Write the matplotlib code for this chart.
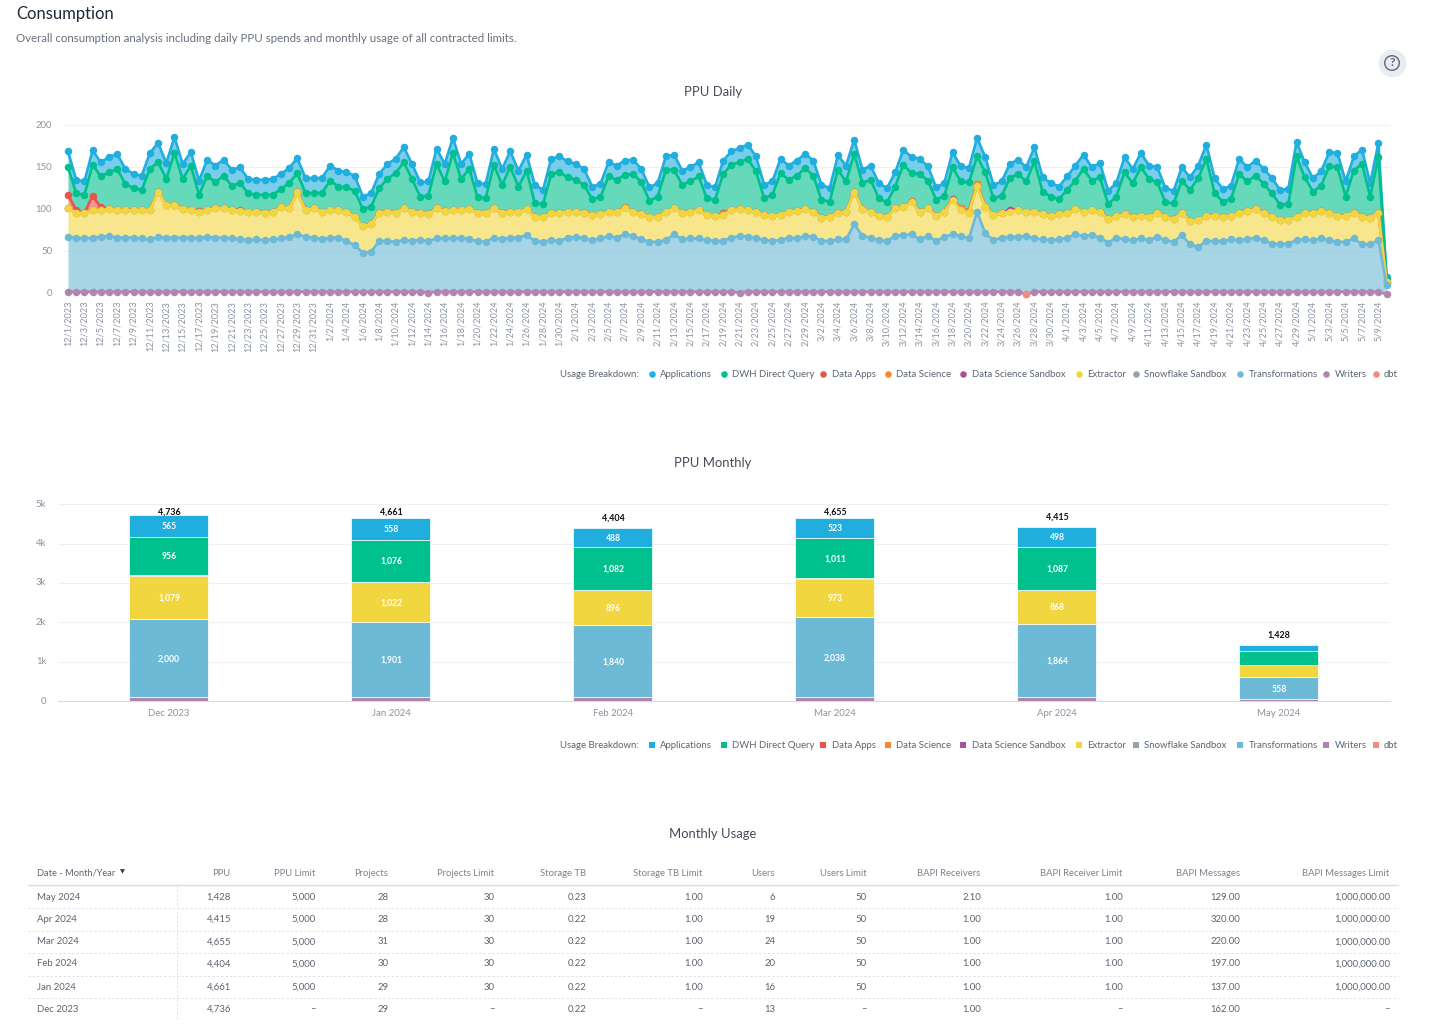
import matplotlib
matplotlib.use("Agg")
import matplotlib.pyplot as plt
import numpy as np
import pandas as pd

plt.rcParams['font.family'] = ['Lato', 'DejaVu Sans']

W, H = 1430, 1033

# PPU Daily, levels of the stack (top of each band)
applications_top = [
    169,135,133,170,156,162,166,148,142,140,167,179,155,186,154,168,134,159,152,159,
    147,150,136,135,135,136,142,149,161,137,137,137,152,146,144,140,115,119,142,154,
    160,174,154,132,133,172,154,185,154,166,131,130,172,
    148,169,146,165,129,123,160,163,157,154,148,127,130,156,152,158,159,148,126,131,
    163,165,146,150,156,129,126,158,169,173,177,163,129,133,160,152,158,166,158,129,
    125,164,152,183,147,152,131,125,144,171,162,160,151,126,131,168,151,149,185,
    162,129,133,154,159,150,174,138,131,127,139,152,165,150,155,122,131,162,148,167,
    152,150,125,122,150,138,152,177,137,124,128,160,150,158,148,137,123,124,180,156,
    137,145,168,167,133,163,171,131,179,19]
dwh_top = [
    150,119,117,153,139,144,148,130,125,123,148,156,136,167,136,152,117,140,132,140,
    128,131,119,117,117,117,124,131,143,119,119,119,134,127,126,122,100,103,125,136,
    143,156,136,115,116,154,133,167,136,148,114,113,153,
    129,150,127,146,107,106,142,144,138,135,129,112,114,139,135,141,142,132,110,115,
    147,147,129,133,139,113,111,142,153,156,160,145,113,117,143,135,140,149,140,111,
    109,147,133,166,131,135,113,108,127,153,143,142,134,111,116,150,133,132,163,
    144,113,116,137,142,133,157,121,115,112,123,134,148,134,138,106,115,144,131,150,
    136,132,108,107,134,123,137,160,119,109,112,142,133,140,130,119,105,106,163,138,
    121,128,151,150,115,146,154,115,162,17]
extractor_top = [
    101,96,95,99,99,100,99,99,99,99,99,121,105,105,100,99,97,99,101,101,
    99,98,97,97,96,97,102,101,120,99,101,97,99,99,97,91,80,82,96,97,
    96,101,97,96,94,101,98,99,99,100,96,96,101,
    96,97,97,100,91,91,95,95,97,97,96,93,94,97,97,101,97,94,91,91,
    97,101,96,97,99,93,92,93,99,100,99,97,93,92,93,97,98,100,97,90,
    91,96,97,121,100,97,92,91,101,102,109,97,101,92,97,111,99,96,128,
    103,93,95,97,99,97,97,94,92,94,95,100,97,99,97,88,92,94,91,92,
    91,95,91,88,96,86,87,92,92,91,92,95,98,100,95,91,87,87,91,96,
    95,98,96,92,92,96,91,90,96,13]
transformations_top = [
    67,66,65,66,67,68,66,66,66,65,64,67,66,66,66,66,65,67,66,66,
    65,64,63,64,63,64,65,67,70,67,66,64,66,66,62,57,48,49,62,62,
    61,63,62,63,62,65,65,65,66,64,62,61,66,
    64,66,66,69,62,61,63,62,66,67,65,63,65,68,66,70,68,64,61,61,
    63,70,64,65,65,63,62,62,66,68,67,66,63,62,63,66,65,68,67,62,
    62,64,64,82,68,66,63,62,68,69,70,64,68,62,67,70,68,65,97,
    71,63,66,67,67,68,65,64,63,64,66,70,68,69,66,60,66,64,63,65,
    63,67,63,61,69,58,55,62,62,62,64,63,64,66,63,59,58,59,63,64,
    63,65,63,61,61,65,58,58,63,9]
writers_top = [1.6] * 162
writers_top[44] = 0.4
writers_top[82] = 0.4
writers_top[117] = -1.6
writers_top[161] = -1.6

# small bands that mostly hide under Extractor: day index -> height above it
sandbox_bumps = {115: 2.5, 108: 0.8}
science_bumps = {109: 2.5, 110: 2, 111: 2, 103: 1, 68: 1, 80: 1}
apps_bumps = {0: 16, 1: 3, 3: 17, 4: 3, 16: 1, 21: 1, 80: 1}
dbt_days = [117]
dbt_values = [-1.6]

dates = pd.date_range("2023-12-01", periods=162)
date_labels = [f"{d.month}/{d.day}/{d.year}" for d in dates]

# PPU Monthly
months = ["Dec 2023", "Jan 2024", "Feb 2024", "Mar 2024", "Apr 2024", "May 2024"]
m_writers = [90, 95, 90, 100, 92, 40]
m_transformations = [2000, 1901, 1840, 2038, 1864, 558]
m_extractor = [1079, 1022, 896, 973, 868, 310]
m_data_apps = [46, 9, 8, 10, 6, 0]
m_dwh = [956, 1076, 1082, 1011, 1087, 360]
m_applications = [565, 558, 488, 523, 498, 160]
m_totals = [4736, 4661, 4404, 4655, 4415, 1428]

# Monthly Usage
table_columns = ["PPU", "PPU Limit", "Projects", "Projects Limit", "Storage TB", "Storage TB Limit",
                 "Users", "Users Limit", "BAPI Receivers", "BAPI Receiver Limit", "BAPI Messages",
                 "BAPI Messages Limit"]
table_months = ["May 2024", "Apr 2024", "Mar 2024", "Feb 2024", "Jan 2024", "Dec 2023"]
table_rows = [
    ["1,428", "5,000", "28", "30", "0.23", "1.00", "6", "50", "2.10", "1.00", "129.00", "1,000,000.00"],
    ["4,415", "5,000", "28", "30", "0.22", "1.00", "19", "50", "1.00", "1.00", "320.00", "1,000,000.00"],
    ["4,655", "5,000", "31", "30", "0.22", "1.00", "24", "50", "1.00", "1.00", "220.00", "1,000,000.00"],
    ["4,404", "5,000", "30", "30", "0.22", "1.00", "20", "50", "1.00", "1.00", "197.00", "1,000,000.00"],
    ["4,661", "5,000", "29", "30", "0.22", "1.00", "16", "50", "1.00", "1.00", "137.00", "1,000,000.00"],
    ["4,736", "–", "29", "–", "0.22", "–", "13", "–", "1.00", "–", "162.00", "–"],
]

legend_names = ["Applications", "DWH Direct Query", "Data Apps", "Data Science", "Data Science Sandbox",
                "Extractor", "Snowflake Sandbox", "Transformations", "Writers", "dbt"]
legend_colors = ["#20AEDE", "#00C18D", "#E8544A", "#F58B27", "#A7509E",
                 "#F2D63F", "#94A1B0", "#6CBAD6", "#B185B0", "#F28B80"]
legend_dot_x = [651.5, 724, 823, 888, 963, 1079, 1136, 1240, 1326, 1375.5]
col = dict(zip(legend_names, legend_colors))

GREY = "#8b93a1"
TEXT = "#5c6470"
DOWN = 0.8  # va="center" sits a bit high on this page


def px_axes(left, top, right, bottom):
    return fig.add_axes([left / W, 1 - bottom / H, (right - left) / W, (bottom - top) / H])


fig = plt.figure(figsize=(W / 100, H / 100), dpi=100)

# page overlay in pixel coordinates, for titles, legends and the table
page = fig.add_axes([0, 0, 1, 1])
page.set_xlim(0, W)
page.set_ylim(H, 0)
page.axis("off")

page.text(16, 13.5 + DOWN, "Consumption", fontsize=12, color="#1f2a36", va="center")
page.text(16, 38.5, "Overall consumption analysis including daily PPU spends and monthly usage of all contracted limits.",
          fontsize=8.27, color="#68707c", va="center")
page.scatter([1392], [63], s=400, color="#e9edf2", linewidths=0)
page.scatter([1392], [63], s=110, facecolor="none", edgecolor="#5f6874", linewidths=1)
page.text(1392, 63, "?", fontsize=8.5, color="#5f6874", ha="center", va="center", fontweight="bold")

for title, y in [("PPU Daily", 91), ("PPU Monthly", 462), ("Monthly Usage", 833)]:
    page.text(713, y + DOWN, title, fontsize=9.4, color="#444c57", ha="center", va="center")


def draw_legend(y, marker):
    page.text(560, y + DOWN, "Usage Breakdown:", fontsize=6.95, color=TEXT, va="center")
    for name, color, dx in zip(legend_names, legend_colors, legend_dot_x):
        page.scatter([dx], [y], s=22, marker=marker, color=color, linewidths=0)
        page.text(dx + 8.5, y + DOWN, name, fontsize=6.95, color=TEXT, va="center")


draw_legend(374, "o")
draw_legend(745, "s")

# PPU Daily
ax = px_axes(64, 125.3, 1390, 293)
x = np.arange(162)
ax.set_xlim((64 - 68) / 8.19, (1390 - 68) / 8.19)
ax.set_ylim(0, 200)

extractor = np.array(extractor_top, dtype=float)
sandbox = extractor + np.array([sandbox_bumps.get(i, 0) for i in x])
science = sandbox + np.array([science_bumps.get(i, 0) for i in x])
apps = science + np.array([apps_bumps.get(i, 0) for i in x])
dwh = np.array(dwh_top, dtype=float)
blue = np.array(applications_top, dtype=float)
trans = np.array(transformations_top, dtype=float)
writers = np.array(writers_top, dtype=float)

bands = [
    (blue, dwh, "Applications", 3),
    (dwh, apps, "DWH Direct Query", 4),
    (apps, science, "Data Apps", 5),
    (science, sandbox, "Data Science", 6),
    (sandbox, extractor, "Data Science Sandbox", 7),
    (extractor, trans, "Extractor", 8),
    (trans, writers, "Transformations", 10),
    (writers, writers * 0, "Writers", 11),
]
for top, low, name, z in bands:
    ax.fill_between(x, low, top, color=col[name], alpha=0.6, linewidth=0, zorder=z)
    ax.plot(x, top, color=col[name], lw=1.9, marker="o", ms=5.4, mew=0, clip_on=False, zorder=z + 0.5)
ax.plot(dbt_days, dbt_values, color=col["dbt"], marker="o", ms=5.4, mew=0, clip_on=False, zorder=12)

ax.set_yticks([0, 50, 100, 150, 200])
ax.set_xticks(x[::2])
ax.set_xticklabels(date_labels[::2], rotation=90, fontsize=6.6, color=GREY)
ax.tick_params(length=0)
ax.tick_params(axis="x", pad=5.5)
ax.tick_params(axis="y", labelsize=6.9, labelcolor=GREY, pad=8.5)
for lab in ax.get_yticklabels():
    lab.set_va("center")
ax.yaxis.grid(True, color="#eff0f2", lw=0.8)
ax.set_axisbelow(True)
for s in ax.spines.values():
    s.set_visible(False)

# PPU Monthly
ax2 = px_axes(58, 504.3, 1390, 701)
mx = np.arange(6)
ax2.set_xlim(-0.5, 5.5)
ax2.set_ylim(0, 5000)

bottom = np.zeros(6)
stack = [(m_writers, "Writers"), (m_transformations, "Transformations"), (m_extractor, "Extractor"),
         (m_data_apps, "Data Apps"), (m_dwh, "DWH Direct Query"), (m_applications, "Applications")]
for vals, name in stack:
    ax2.bar(mx - 0.002, vals, 0.358, bottom=bottom, color=col[name], edgecolor="white", linewidth=0.5, zorder=3)
    for i, v in enumerate(vals):
        if v >= 400:
            ax2.annotate(f"{v:,}", (mx[i], bottom[i] + v / 2), xytext=(0, -0.5), textcoords="offset points",
                         color="white", fontsize=6.2, fontweight="bold", ha="center", va="center", zorder=4)
    bottom += np.array(vals)
# the top labels stop rising near the top of the plot
for i, t in enumerate(m_totals):
    ax2.annotate(f"{t:,}", (mx[i], min(t, 4555)), xytext=(0, 3.8), textcoords="offset points", fontsize=6.4,
                 fontweight="bold", color="#111111", ha="center", va="bottom")

ax2.set_yticks([0, 1000, 2000, 3000, 4000, 5000])
ax2.set_yticklabels(["0", "1k", "2k", "3k", "4k", "5k"])
ax2.set_xticks(mx)
ax2.set_xticklabels(months)
ax2.tick_params(length=0)
ax2.tick_params(axis="x", labelsize=6.9, labelcolor=GREY, pad=6)
ax2.tick_params(axis="y", labelsize=6.9, labelcolor=GREY, pad=8.5)
for lab in ax2.get_yticklabels():
    lab.set_va("center")
ax2.yaxis.grid(True, color="#eff0f2", lw=0.8)
ax2.set_axisbelow(True)
for s in ax2.spines.values():
    s.set_visible(False)
ax2.spines["bottom"].set_visible(True)
ax2.spines["bottom"].set_color("#d3dcea")

# Monthly Usage table
col_right = [231, 316, 388.5, 494.5, 586.5, 703, 775.5, 867, 981, 1123, 1240, 1390]
row_y = [897, 919, 942, 964, 987, 1009]
sep_y = [908, 931, 953, 976, 998]

page.text(37, 873, "Date - Month/Year", fontsize=6.7, color=TEXT, va="center")
page.text(122, 871.5, "▼", fontsize=4.6, color="#333a44", ha="center", va="center")
for r, name in zip(col_right, table_columns):
    page.text(r - 0.5, 873, name, fontsize=6.8, color="#7b8390", ha="right", va="center")
page.plot([28, 1398], [885, 885], color="#d6dde6", lw=1)
for y in sep_y:
    page.plot([28, 1398], [y, y], color="#dfe3e8", lw=0.7, ls=(0, (2.5, 2)))
page.plot([176.5, 176.5], [885, 1020], color="#dfe3e8", lw=0.7, ls=(0, (2.5, 2)))
for y, month, row in zip(row_y, table_months, table_rows):
    page.text(37, y, month, fontsize=6.9, color=TEXT, va="center")
    for r, val in zip(col_right, row):
        page.text(r, y, val, fontsize=6.9, color=TEXT, ha="right", va="center")

fig.savefig("out.png", dpi=100, facecolor="white")
